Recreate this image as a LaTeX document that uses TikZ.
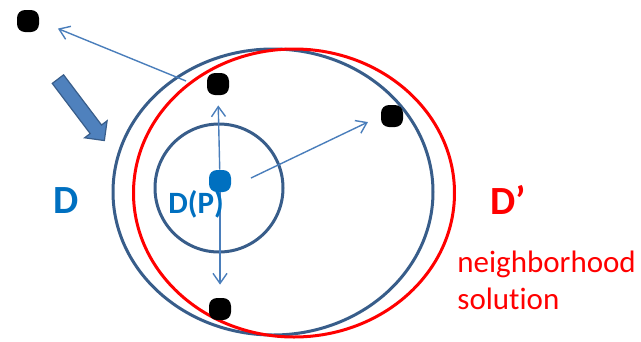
\documentclass[tikz,border=0pt]{standalone}
\usepackage{fontspec}
\setmainfont{Carlito}[Ligatures=NoCommon]
\usepackage{tikz}
\usetikzlibrary{arrows.meta, positioning, shapes.geometric, shapes.arrows}

\definecolor{ringblue}{RGB}{56,93,138}
\definecolor{lineblue}{RGB}{74,126,187}
\definecolor{textblue}{RGB}{0,112,192}
\definecolor{fillblue}{RGB}{79,129,189}

\begin{document}
\begin{tikzpicture}[x=1pt,y=-1pt,thick]

	\tikzset{
		ring/.style={
				ellipse, draw=ringblue, line width=3pt, inner sep=0pt, fill=none
			},
		sol/.style={
				rectangle, rounded corners=8pt, fill=black, inner sep=0pt, minimum size=22pt
			},
		move/.style={
				draw=lineblue, line width=1.4pt, -{Straight Barb[length=10pt, width=14pt]}
			},
		lbl/.style={
				anchor=base west, inner sep=0pt, font=\bfseries
			},
	}
	\useasboundingbox (0,0) rectangle (641,341);

	\node[ring, minimum width=320, minimum height=286](D) at (273,192){};
	\node[ring, draw=red, minimum width=321, minimum height=288](Dn) at (294,193){};
	\node[ring, minimum width=128, minimum height=128](DP) at (219,188){};

	\node[sol](s0) at (28,21){};
	\node[sol](s1) at (218,84){};
	\node[sol](s2) at (392,116){};
	\node[sol](s3) at (220,309){};
	\node[sol, fill=textblue](p) at (220,181){};

	\coordinate (c1) at (186,81);
	\coordinate (c2) at (251,178);

	\draw[move, shorten >=20pt] (c1)--(s0.east);
	\draw[move, shorten >=10pt] (p)--(s1.south);
	\draw[move, shorten >=13pt] (p)--(s3.north);
	\draw[move, shorten >=14pt] (c2)--(s2.west);

	\node[single arrow, draw=ringblue, fill=fillblue, line width=1.2pt,
		inner xsep=0pt, inner ysep=6.5pt,
		minimum height=77, single arrow head extend=7,
		rotate=-52.9](big) at (79,107){};

	\node[lbl, textblue, font=\bfseries\fontsize{40}{40}\selectfont] (tD) at (53,213){D};
	\node[lbl, textblue, font=\bfseries\fontsize{31}{31}\selectfont] (tDP) at (168,213){D(P)};
	\node[lbl, red, font=\bfseries\fontsize{40}{40}\selectfont] (tDn) at (490,214){D’};
	\node[lbl, red, font=\fontsize{31}{37}\selectfont, align=left, anchor=north west] (tn)
		at (457,251){neighborhood\\solution};

\end{tikzpicture}
\end{document}
